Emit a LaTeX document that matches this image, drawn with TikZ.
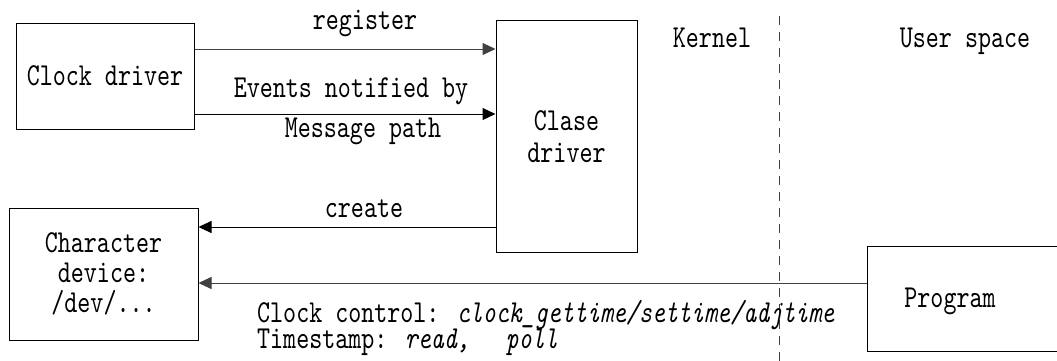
\documentclass[tikz,border=0pt]{standalone}
\usepackage{fontspec}
\usetikzlibrary{arrows.meta}
% narrow, tall monospaced serif for all labels
\newfontfamily\diagfont[Extension=.otf,UprightFont=*-regular,ItalicFont=*-italic,FakeStretch=0.775]{lmmono10}
\begin{document}
\begin{tikzpicture}[x=1pt,y=-1pt,
  every node/.style={font=\diagfont\fontsize{32}{30}\selectfont, inner sep=0pt},
  box/.style={draw=black, line width=1pt, align=center},
  arr/.style={line width=1pt, -{Triangle[length=13pt,width=12pt]}},
  lbl/.style={anchor=base}]
\useasboundingbox (0,0) rectangle (1057,360);

% boxes (multi-line labels are anchored at the baseline of their last line)
\node[box, minimum width=178pt, minimum height=106pt] (clock) at (105,76) {};
\node[lbl] at (105,85) {Clock driver};
\node[box, minimum width=141pt, minimum height=232pt] (clase) at (566.5,136) {};
\node[lbl, align=center] at (566.5,162) {Clase\\[2pt]driver};
\node[box, minimum width=189pt, minimum height=132pt] (chardev) at (103.5,274) {};
\node[lbl, align=center] at (103.5,312) {Character\\device:\\/dev/...};
\node[box, anchor=west, minimum width=200pt, minimum height=105pt] (prog) at (867,298.5) {};
\node[lbl] at (950,307) {Program};

% kernel / user space boundary
\coordinate (bt) at (779,16);
\coordinate (bb) at (779,362);
\draw[black!75, line width=1pt, dash pattern=on 9pt off 7pt] (bt) -- (bb);
\node[lbl] at (712,47) {Kernel};
\node[lbl] at (965,47) {User space};

% connectors
\draw[arr, black!75] (clock.east |- 0,49) -- (clase.west |- 0,49);
\node[lbl] at (365,29) {register};
\draw[arr] (clock.east |- 0,114) -- (clase.west |- 0,114);
\node[lbl] at (351,97) {Events notified by};
\node[lbl] at (363,137) {Message path};
\draw[arr] (clase.west |- 0,227) -- (chardev.east |- 0,227);
\node[lbl] at (364,217) {create};
\draw[arr, black!75] (prog.west |- 0,283) -- (chardev.east |- 0,283);
\node[lbl, anchor=base west] at (257,322) {Clock control: \textit{clock\_gettime/settime/adjtime}};
\node[lbl, anchor=base west] at (257,348) {Timestamp: \textit{read,}\hspace{36pt}\textit{poll}};
\end{tikzpicture}
\end{document}
